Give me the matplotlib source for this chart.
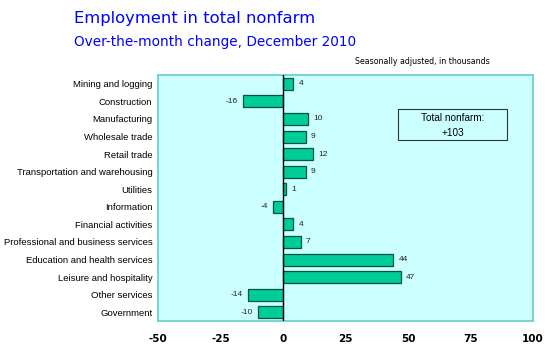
import matplotlib
matplotlib.use('Agg')
import matplotlib.pyplot as plt
from matplotlib.patches import Rectangle

categories = ['Mining and logging', 'Construction', 'Manufacturing', 'Wholesale trade',
              'Retail trade', 'Transportation and warehousing', 'Utilities', 'Information',
              'Financial activities', 'Professional and business services',
              'Education and health services', 'Leisure and hospitality',
              'Other services', 'Government']
values = [4, -16, 10, 9, 12, 9, 1, -4, 4, 7, 44, 47, -14, -10]
xticks = [-50, -25, 0, 25, 50, 75, 100]
total_lines = ['Total nonfarm:', '+103']

plt.rcParams['font.family'] = ['DejaVu Sans']

fig = plt.figure(figsize=(5.45, 3.54), dpi=100)
ax = fig.add_axes([0.290, 0.093, 0.688, 0.695])
ax.set_facecolor('#CCFFFF')

pos = list(range(len(categories)))
ax.barh(pos, values, height=0.68, color='#00CC99', edgecolor='#00553A', linewidth=0.9, zorder=2)
ax.axvline(0, color='black', linewidth=1.0, zorder=3)

for p, v in zip(pos, values):
    if v >= 0:
        ax.text(v + 2.2, p, str(v), ha='left', va='center', fontsize=6, color='#222222',
                family='Liberation Sans')
    else:
        ax.text(v - 2.2, p, str(v), ha='right', va='center', fontsize=6, color='#222222',
                family='Liberation Sans')

ax.set_xlim(-50, 100)
ax.set_ylim(len(categories) - 0.5, -0.5)
ax.set_xticks(xticks)
ax.set_xticklabels([str(t) for t in xticks], fontsize=7.5, fontweight='bold')
ax.set_yticks(pos)
ax.set_yticklabels(categories, fontsize=6.8, family='Liberation Sans')
ax.tick_params(axis='both', length=0)
ax.tick_params(axis='x', pad=9)
ax.tick_params(axis='y', pad=4)
for s in ax.spines.values():
    s.set_color('#66CCCC')
    s.set_linewidth(1.2)

# summary box
ax.add_patch(Rectangle((0.64, 0.736), 0.291, 0.126, transform=ax.transAxes,
                       facecolor='none', edgecolor='#333333', linewidth=0.8, zorder=4))
ax.text(0.7855, 0.826, total_lines[0], transform=ax.transAxes, ha='center', va='center',
        fontsize=7.2, family='Liberation Sans')
ax.text(0.7855, 0.766, total_lines[1], transform=ax.transAxes, ha='center', va='center',
        fontsize=7.2, family='Liberation Sans')

fig.text(74 / 545, 1 - 19 / 354, 'Employment in total nonfarm', fontsize=11.8, color='#0000FF',
         ha='left', va='center')
fig.text(74 / 545, 1 - 42 / 354, 'Over-the-month change, December 2010', fontsize=9.8,
         color='#0000FF', ha='left', va='center')
fig.text(490 / 545, 1 - 62 / 354, 'Seasonally adjusted, in thousands', fontsize=5.7,
         ha='right', va='center')

fig.savefig('out.png', dpi=100)
